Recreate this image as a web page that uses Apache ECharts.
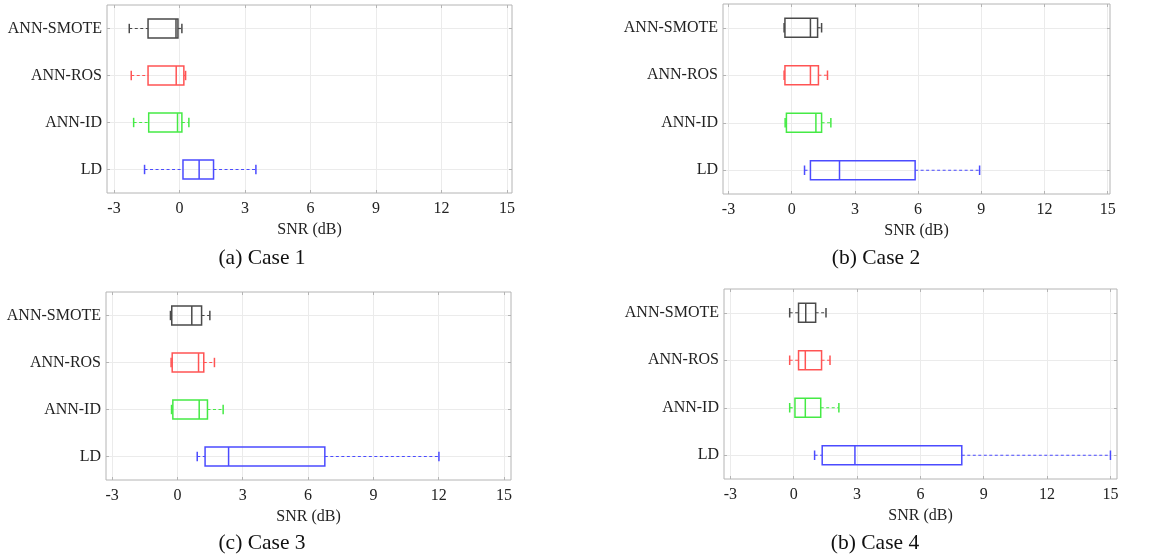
<!DOCTYPE html>
<html>
<head>
<meta charset="utf-8">
<script src="https://cdn.jsdelivr.net/npm/echarts@6/dist/echarts.min.js"></script>
<style>
  html, body { margin: 0; padding: 0; background: #fff; }
  #chart { width: 1158px; height: 558px; }
</style>
</head>
<body>
<div id="chart"></div>
<script>
// Methods, bottom to top on each vertical axis
const categories = ['LD', 'ANN-ID', 'ANN-ROS', 'ANN-SMOTE'];
const methodColors = ['#4b4bff', '#45ea45', '#ff5454', '#4a4a4a'];

// SNR tick values (dB)
const snrTicks = [-3, 0, 3, 6, 9, 12, 15];

// Five-number summaries per method: [lower whisker, Q1, median, Q3, upper whisker]
const case1 = [
  [-1.60, 0.16, 0.90, 1.56, 3.50],
  [-2.10, -1.41, -0.09, 0.11, 0.43],
  [-2.21, -1.44, -0.15, 0.20, 0.28],
  [-2.30, -1.44, -0.16, -0.07, 0.11]
];
const case2 = [
  [0.61, 0.89, 2.27, 5.86, 8.92],
  [-0.31, -0.25, 1.15, 1.42, 1.86],
  [-0.36, -0.32, 0.89, 1.27, 1.70],
  [-0.36, -0.32, 0.89, 1.23, 1.42]
];
const case3 = [
  [0.91, 1.27, 2.35, 6.77, 12.01],
  [-0.27, -0.21, 1.00, 1.38, 2.10],
  [-0.29, -0.24, 0.97, 1.21, 1.70],
  [-0.32, -0.26, 0.66, 1.11, 1.49]
];
const case4 = [
  [0.99, 1.35, 2.90, 7.96, 15.00],
  [-0.19, 0.06, 0.55, 1.28, 2.14],
  [-0.19, 0.23, 0.55, 1.32, 1.72],
  [-0.19, 0.23, 0.57, 1.04, 1.53]
];

const captions = ['(a) Case 1', '(b) Case 2', '(c) Case 3', '(b) Case 4'];
const caseData = [case1, case2, case3, case4];

// Panel layout
const panels = [
  { left: 107, top: 5,   width: 405, height: 188, min: -3.32, max: 15.23, cx: 262, cy: 258 },
  { left: 723, top: 4,   width: 387, height: 190, min: -3.26, max: 15.11, cx: 876, cy: 258 },
  { left: 106, top: 292, width: 405, height: 188, min: -3.28, max: 15.32, cx: 262, cy: 543 },
  { left: 724, top: 289, width: 393, height: 190, min: -3.30, max: 15.31, cx: 875, cy: 543 }
];

const FONT = '"Liberation Serif", "Times New Roman", serif';
const FRAME = '#b4b4b4';
const GRIDLINE = '#ebebeb';
const TEXT = '#222';
const catPositions = categories.map((_, i) => i + 1);

const grid = [], xAxis = [], yAxis = [], series = [], graphic = [];

panels.forEach((p, i) => {
  grid.push({
    left: p.left, top: p.top, width: p.width, height: p.height,
    show: true, borderColor: FRAME, borderWidth: 1, backgroundColor: 'transparent'
  });
  const tickStyle = { show: true, inside: true, length: 3, lineStyle: { color: FRAME } };
  const hiddenLine = { show: false, onZero: false };
  xAxis.push({
    type: 'value', gridIndex: i, min: p.min, max: p.max, position: 'bottom',
    axisLine: hiddenLine,
    axisTick: Object.assign({ customValues: snrTicks }, tickStyle),
    axisLabel: { customValues: snrTicks, fontFamily: FONT, fontSize: 16, color: TEXT, margin: 8 },
    splitLine: { show: true, lineStyle: { color: GRIDLINE, width: 1 } },
    name: 'SNR (dB)', nameLocation: 'middle', nameGap: 29,
    nameTextStyle: { fontFamily: FONT, fontSize: 16, color: TEXT }
  });
  xAxis.push({
    type: 'value', gridIndex: i, min: p.min, max: p.max, position: 'top',
    axisLine: hiddenLine,
    axisTick: Object.assign({ customValues: snrTicks }, tickStyle),
    axisLabel: { show: false }, splitLine: { show: false }
  });
  yAxis.push({
    type: 'value', gridIndex: i, min: 0.5, max: 4.5, position: 'left',
    axisLine: hiddenLine,
    axisTick: Object.assign({ customValues: catPositions }, tickStyle),
    axisLabel: {
      customValues: catPositions, fontFamily: FONT, fontSize: 16, color: TEXT, margin: 5,
      formatter: v => categories[Math.round(v) - 1]
    },
    splitLine: { show: true, lineStyle: { color: GRIDLINE, width: 1 } }
  });
  yAxis.push({
    type: 'value', gridIndex: i, min: 0.5, max: 4.5, position: 'right',
    axisLine: hiddenLine,
    axisTick: Object.assign({ customValues: catPositions }, tickStyle),
    axisLabel: { show: false }, splitLine: { show: false }
  });

  series.push({
    type: 'custom',
    xAxisIndex: 2 * i, yAxisIndex: 2 * i,
    data: caseData[i].map((s, k) => [k + 1].concat(s)),
    encode: { x: [1, 2, 3, 4, 5], y: 0 },
    renderItem: function (params, api) {
      const yv = api.value(0);
      const lo = api.coord([api.value(1), yv]);
      const q1 = api.coord([api.value(2), yv]);
      const md = api.coord([api.value(3), yv]);
      const q3 = api.coord([api.value(4), yv]);
      const hi = api.coord([api.value(5), yv]);
      const half = api.size([0, 0.2])[1];
      const cap = half / 2;
      const color = methodColors[params.dataIndex];
      const solid = { stroke: color, lineWidth: 1.5, fill: null };
      const dashed = { stroke: color, lineWidth: 1.2, lineDash: [3, 2.5], fill: null };
      const cy = lo[1];
      return {
        type: 'group',
        children: [
          { type: 'line', shape: { x1: lo[0], y1: cy, x2: q1[0], y2: cy }, style: dashed },
          { type: 'line', shape: { x1: q3[0], y1: cy, x2: hi[0], y2: cy }, style: dashed },
          { type: 'line', shape: { x1: lo[0], y1: cy - cap, x2: lo[0], y2: cy + cap }, style: solid },
          { type: 'line', shape: { x1: hi[0], y1: cy - cap, x2: hi[0], y2: cy + cap }, style: solid },
          { type: 'rect', shape: { x: q1[0], y: cy - half, width: q3[0] - q1[0], height: 2 * half }, style: solid },
          { type: 'line', shape: { x1: md[0], y1: cy - half, x2: md[0], y2: cy + half }, style: solid }
        ]
      };
    }
  });

  graphic.push({
    type: 'text', x: p.cx, y: p.cy,
    style: { text: captions[i], font: '21.5px ' + FONT, fill: '#111', align: 'center', verticalAlign: 'middle' }
  });
});

const chart = echarts.init(document.getElementById('chart'), null, { renderer: 'canvas' });
chart.setOption({
  animation: false,
  backgroundColor: '#fff',
  grid, xAxis, yAxis, series, graphic
});
</script>
</body>
</html>
